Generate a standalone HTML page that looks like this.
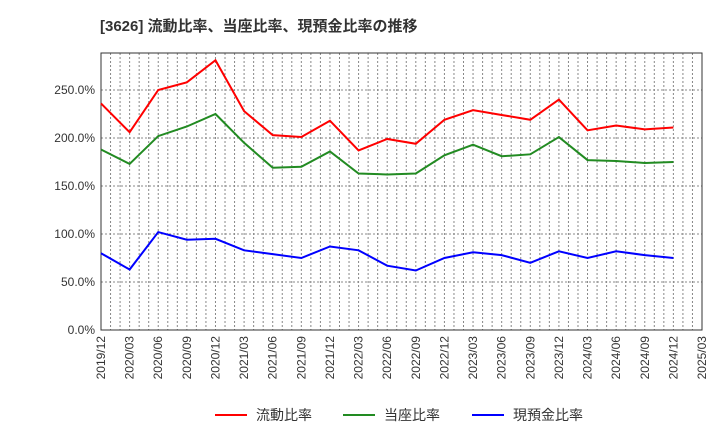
<!DOCTYPE html>
<html><head><meta charset="utf-8"><style>
body{margin:0;background:#fff;font-family:"Liberation Sans","Noto Sans CJK JP",sans-serif;}
</style></head><body>
<svg width="720" height="440" xmlns="http://www.w3.org/2000/svg">
<text x="100" y="31" font-size="15" font-weight="bold" fill="#333" font-family="Liberation Sans, Noto Sans CJK JP, sans-serif">[3626]  流動比率、当座比率、現預金比率の推移</text>
<g id="grid"></g><g id="axes"></g><g id="series"></g><g id="legend"></g>
</svg>
<script>
const xLabels=["2019/12","2020/03","2020/06","2020/09","2020/12","2021/03","2021/06","2021/09","2021/12","2022/03","2022/06","2022/09","2022/12","2023/03","2023/06","2023/09","2023/12","2024/03","2024/06","2024/09","2024/12","2025/03"];
const yTicks=[0,50,100,150,200,250];
const currentRatio=[236,206,250,258,281,228,203,201,218,187,199,194,219,229,224,219,240,208,213,209,211];
const quickRatio=[188,173,202,212,225,195,169,170,186,163,162,163,182,193,181,183,201,177,176,174,175];
const cashRatio=[80,63,102,94,95,83,79,75,87,83,67,62,75,81,78,70,82,75,82,78,75];
const L=101,R=702,T=53,B=330;
const NS="http://www.w3.org/2000/svg";
const xs=m=>L+(R-L)*m/63;
const xq=i=>xs(i*3);
const ys=v=>B-v*0.96;
function mk(tag,attrs,parent){const e=document.createElementNS(NS,tag);for(const k in attrs)e.setAttribute(k,attrs[k]);document.getElementById(parent).appendChild(e);return e;}
for(let m=1;m<63;m++){const e=mk('line',{x1:xs(m),x2:xs(m),y1:T,y2:B,stroke:'#888','stroke-dasharray':'2,2','stroke-width':1},'grid');

}
yTicks.forEach(v=>{if(v>0){const g=mk('line',{x1:L,x2:R,y1:ys(v),y2:ys(v),stroke:'#888','stroke-dasharray':'2,2'},'grid');

}
const t=mk('text',{x:L-6,y:ys(v)+4,'text-anchor':'end','font-size':12,fill:'#333'},'axes');t.textContent=v.toFixed(1)+'%';

});
const fr=mk('rect',{x:L,y:T,width:R-L,height:B-T,fill:'none',stroke:'#333'},'axes');


xLabels.forEach((s,i)=>{const x=xq(i);const t=mk('text',{x:x+4,y:B+6,'text-anchor':'end','font-size':12,fill:'#333',transform:`rotate(-90 ${x+4} ${B+6})`},'axes');t.textContent=s;

});
[[currentRatio,'#f00','current-ratio-line'],[quickRatio,'#228b22','quick-ratio-line'],[cashRatio,'#00f','cash-ratio-line']].forEach(([d,c,n])=>{
const p=mk('polyline',{points:d.map((v,i)=>xq(i)+','+ys(v)).join(' '),fill:'none',stroke:c,'stroke-width':2},'series');

});
[['流動比率','#f00',215],['当座比率','#228b22',343],['現預金比率','#00f',472]].forEach(([s,c,x])=>{
const l=mk('line',{x1:x,x2:x+32,y1:415,y2:415,stroke:c,'stroke-width':2},'legend');


const t=mk('text',{x:x+41,y:420,'font-size':14,fill:'#333'},'legend');t.textContent=s;

});
</script>
</body></html>
